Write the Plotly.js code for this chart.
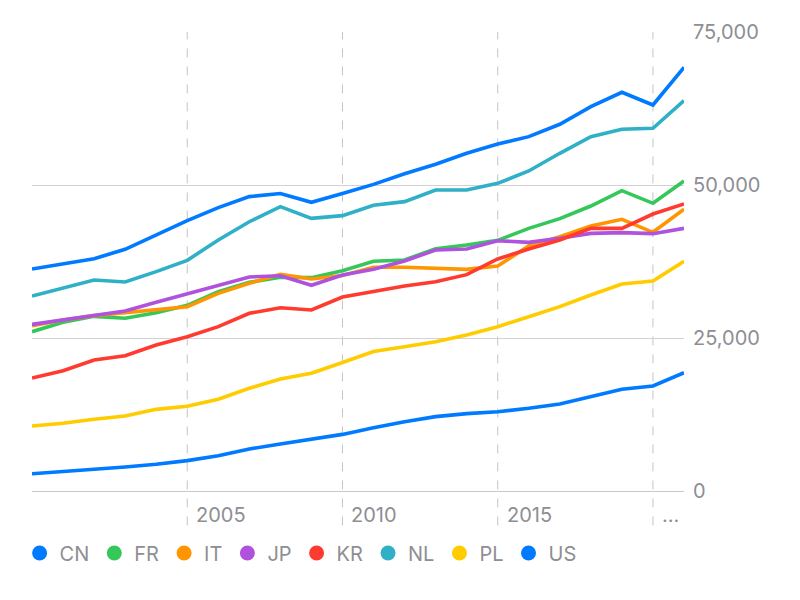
<!DOCTYPE html>
<html>
<head>
<meta charset="utf-8">
<script src="https://cdn.plot.ly/plotly-3.0.1.min.js"></script>
<style>html,body{margin:0;padding:0;background:#fff;}#chart{width:800px;height:600px;}</style>
</head>
<body>
<div id="chart"></div>
<script>
const years = [2000,2001,2002,2003,2004,2005,2006,2007,2008,2009,2010,2011,2012,2013,2014,2015,2016,2017,2018,2019,2020,2021];
const CN = [2830,3160,3540,3920,4360,4960,5770,6860,7680,8450,9250,10350,11330,12150,12640,12960,13510,14220,15410,16620,17160,19330];
const FR = [26030,27560,28540,28220,29140,30340,32570,34100,34920,34860,36000,37530,37750,39600,40200,40960,42920,44500,46570,49070,47010,50650];
const IT = [27010,27940,28650,29140,29690,30120,32300,33940,35410,34640,35200,36550,36550,36330,36220,36770,40030,41550,43300,44390,42270,46030];
const JP = [27230,27940,28700,29410,30830,32190,33610,34970,35180,33610,35290,36220,37580,39380,39540,40900,40630,41290,42100,42210,42050,42920];
const KR = [18460,19660,21400,22110,23860,25210,26850,29030,29950,29580,31700,32570,33500,34200,35350,37910,39540,41010,42920,42920,45260,46900];
const NL = [31860,33220,34480,34150,35840,37690,41010,44000,46460,44550,44990,46680,47280,49180,49180,50270,52290,55180,57900,59100,59260,63780];
const PL = [10620,11060,11710,12250,13340,13840,14980,16780,18300,19230,21000,22800,23580,24400,25490,26850,28480,30120,32030,33820,34310,37530];
const US = [36275,37090,37960,39490,41830,44170,46300,48100,48600,47170,48600,50100,51850,53380,55180,56700,57900,59920,62800,65150,63070,69230];

const seriesNames = ["CN","FR","IT","JP","KR","NL","PL","US"];
const seriesData = [CN,FR,IT,JP,KR,NL,PL,US];
const colors = ["#007AFF","#34C759","#FF9500","#AF52DE","#FF3B30","#30B0C7","#FFCC00","#007AFF"];

const xTickVals = [2005,2010,2015,2020];
const xTickText = ["2005","2010","2015","…"];
const yTickVals = [0,25000,50000,75000];

const fontFam = "Inter, 'Noto Sans', sans-serif";
const gray = "#8e8e93";

const traces = [];
seriesNames.forEach((n,i)=>{
  traces.push({x: years, y: seriesData[i], type:'scatter', mode:'lines', name:n,
    line:{color:colors[i], width:3.6, shape:'linear'}, showlegend:false, hoverinfo:'skip'});
});
seriesNames.forEach((n,i)=>{
  traces.push({x:[null], y:[null], type:'scatter', mode:'markers', name:n,
    marker:{color:colors[i], size:15, symbol:'circle'}, showlegend:true});
});

const shapes = xTickVals.map(v=>({type:'line', xref:'x', yref:'paper', x0:v, x1:v, y0:-0.075, y1:1,
  line:{color:'#c4c4c4', width:1, dash:'dash'}, layer:'below'}));

const annotations = xTickVals.map((v,i)=>({x:v, xref:'x', yref:'paper', y:-0.052, yanchor:'middle',
  xanchor:'left', xshift:7, text:xTickText[i], showarrow:false, font:{family:fontFam, size:20, color:gray}}));

const layout = {
  width:800, height:600,
  margin:{l:32, r:116, t:32, b:109},
  paper_bgcolor:'#fff', plot_bgcolor:'#fff',
  xaxis:{range:[2000,2021], showgrid:false, zeroline:false, showticklabels:false, ticks:'', showline:false, fixedrange:true},
  yaxis:{range:[0,75000], side:'right', tickvals:yTickVals, tickformat:',d', showgrid:true, gridcolor:'#d1d1d6', gridwidth:1,
    zeroline:true, zerolinecolor:'#c7c7cc', zerolinewidth:1, showline:false, ticks:'', ticklabelstandoff:8,
    tickfont:{family:fontFam, size:20, color:gray}, fixedrange:true},
  showlegend:true,
  legend:{orientation:'h', x:-0.019, xanchor:'left', y:-0.135, yanchor:'middle', font:{family:fontFam, size:20, color:gray},
    itemclick:false, bgcolor:'rgba(0,0,0,0)'},
  shapes:shapes, annotations:annotations
};
Plotly.newPlot('chart', traces, layout, {displayModeBar:false, staticPlot:true});
</script>
</body>
</html>
